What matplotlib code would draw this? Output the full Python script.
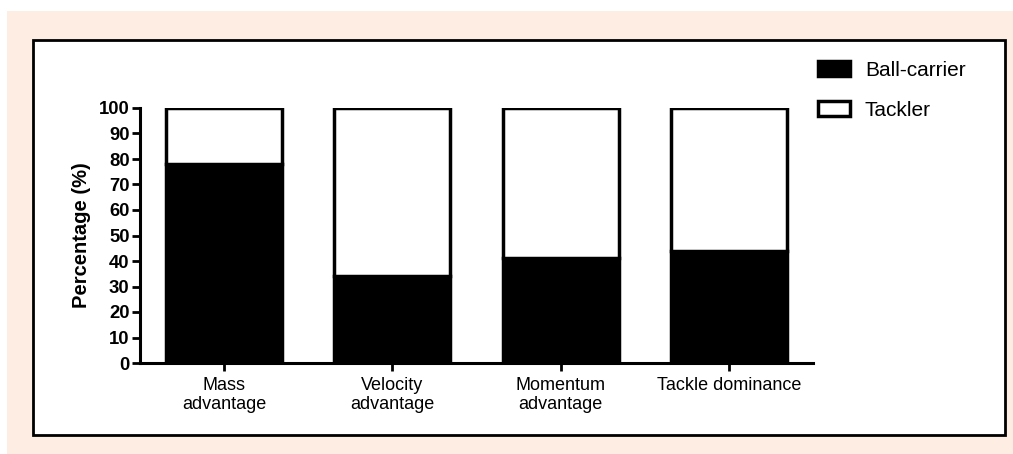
import numpy as np
import matplotlib.pyplot as plt
from matplotlib.patches import Rectangle

# data
categories = ["Mass\nadvantage", "Velocity\nadvantage", "Momentum\nadvantage", "Tackle dominance"]
ball_carrier = [78, 34, 41, 44]
tackler = [100 - v for v in ball_carrier]

plt.rcParams['font.family'] = ['Liberation Sans', 'DejaVu Sans']

fig = plt.figure(figsize=(10.13, 4.54), dpi=100)
W, H = 1013, 454

# peach background and white framed panel
fig.patches.append(Rectangle((7 / W, 0), 1 - 7 / W, 1 - 11 / H, transform=fig.transFigure,
                             facecolor='#fdede3', edgecolor='none', zorder=-10))
fig.patches.append(Rectangle((33 / W, (H - 435) / H), (1005 - 33) / W, (435 - 40) / H,
                             transform=fig.transFigure, facecolor='white',
                             edgecolor='black', linewidth=2, zorder=-9))

ax = fig.add_axes([140 / W, (H - 363) / H, (813 - 140) / W, (363 - 108) / H])
ax.patch.set_alpha(0)

x = np.arange(len(categories))
w = 0.69
b1 = ax.bar(x, ball_carrier, w, color='black', edgecolor='black', linewidth=2.5, label='Ball-carrier')
b2 = ax.bar(x, tackler, w, bottom=ball_carrier, color='white', edgecolor='black',
            linewidth=2.5, label='Tackler')

ax.set_xlim(-0.5, 3.5)
ax.set_ylim(0, 100)
ax.set_yticks(range(0, 101, 10))
ax.set_xticks(x)
ax.set_xticklabels(categories, fontsize=13, linespacing=1.15)
for t in ax.get_yticklabels():
    t.set_fontweight('bold')
    t.set_fontsize(13.3)
ax.set_ylabel("Percentage (%)", fontsize=14.5, fontweight='bold', labelpad=6)

for s in ['top', 'right']:
    ax.spines[s].set_visible(False)
for s in ['left', 'bottom']:
    ax.spines[s].set_linewidth(2.2)
ax.tick_params(axis='both', direction='out', length=6, width=2, pad=1.5)
ax.tick_params(axis='x', pad=4)
ax.margins(0)

leg = fig.legend(handles=[b1, b2], loc='upper left', bbox_to_anchor=(818 / W, 1 - 61 / H),
                 frameon=False, fontsize=15, handlelength=1.55, handleheight=0.75,
                 labelspacing=1.0, handletextpad=0.7, borderpad=0, borderaxespad=0)

fig.savefig('out.png', dpi=100)
